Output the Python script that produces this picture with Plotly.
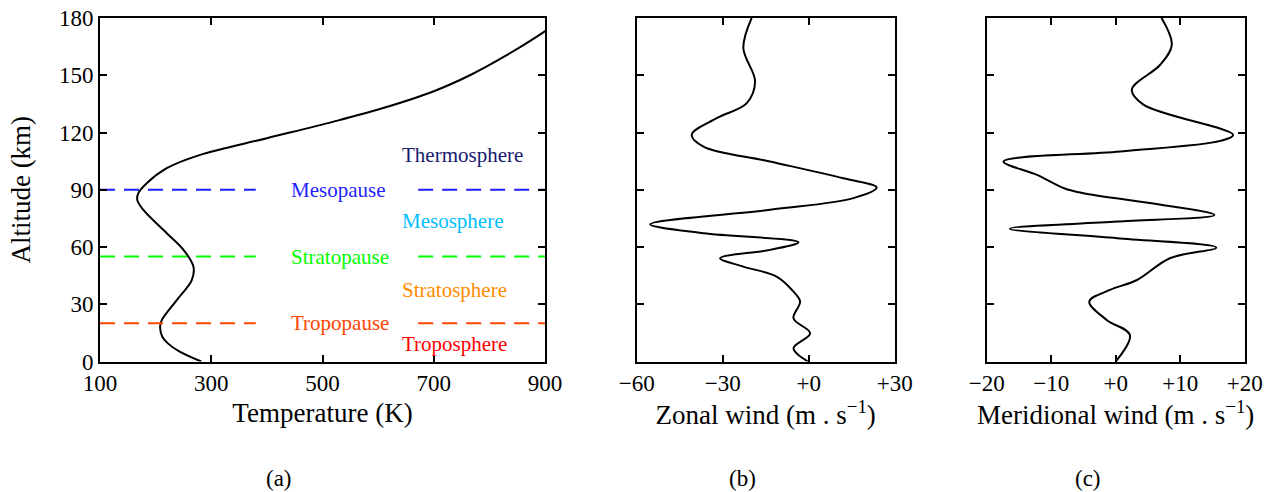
import plotly.graph_objects as go

# ---------------- data ----------------
temp_alt = [0, 5, 9.5, 13, 18.2, 21.7, 32.2, 42.7, 49.7, 58.5, 67.2, 79.4, 84.7, 88.2, 93.4,
            101.3, 108.3, 117, 125.7, 132.8, 141.5, 150, 160, 170, 180]
temp_K = [282, 244, 222, 212, 208, 211, 238, 265, 268, 250, 220, 178, 167, 169, 184,
          220, 280, 400, 520, 609, 699, 765, 828, 884, 935]

zonal_alt = [0, 6.9, 14.8, 22.6, 31.4, 36.6, 44.5, 49.7, 54.1, 58.5, 62.5, 67.2, 71.9,
             79.5, 85.6, 91.2, 96.0, 104.8, 112.6, 118.8, 127.5, 135.4, 146.8, 164.2, 180]
zonal_u = [-0.3, -5.3, 0.5, -5.3, -3.0, -5.3, -11.2, -22.8, -30.9, -13.5, -3.6, -36.7, -55.3,
           -13.5, 15.6, 23.7, 12.1, -13.5, -36.7, -40.8, -32.1, -21.6, -18.7, -22.8, -19.9]

merid_alt = [0, 13.9, 21.8, 31.4, 37.5, 42.7, 54.1, 59.7, 64.6, 69.6, 73.3, 76.8, 83.0,
             88.2, 90.8, 97.8, 104.8, 110.1, 115.6, 118.8, 134.6, 142.5, 155.5, 166.0, 180]
merid_v = [0.0, 2.2, -1.4, -4.1, -0.9, 3.3, 8.4, 15.6, 0.2, -16.4, 0.2, 15.3, 5.3,
           -5.0, -8.0, -12.2, -17.4, 0.7, 16.2, 18.2, 4.3, 2.5, 6.9, 8.7, 7.1]

pause_names = ["Mesopause", "Stratopause", "Tropopause"]
pause_alt = [90, 55, 20]
pause_colors = ["#1f1fff", "#00ff00", "#ff4500"]
pause_left_seg = [100, 380]
pause_right_seg = [672, 900]
pause_label_T = 440

layer_names = ["Thermosphere", "Mesosphere", "Stratosphere", "Troposphere"]
layer_alt = [108, 73.5, 37.5, 9]
layer_colors = ["#191970", "#00bfff", "#ff8c00", "#ff0000"]
layer_label_T = 640

temp_ticks = [100, 300, 500, 700, 900]
zonal_ticks = [-60, -30, 0, 30]
zonal_ticktext = ["\u221260", "\u221230", "+0", "+30"]
merid_ticks = [-20, -10, 0, 10, 20]
merid_ticktext = ["\u221220", "\u221210", "+0", "+10", "+20"]
alt_ticks = [0, 30, 60, 90, 120, 150, 180]

captions = ["(a)", "(b)", "(c)"]
caption_x_px = [279, 742, 1088]

# ---------------- figure ----------------
W, H = 1279, 492
FONT = "Liberation Serif"
y_dom = [1 - 361.5 / H, 1 - 18 / H]
dom_a = [100 / W, 545 / W]
dom_b = [636.7 / W, 894.7 / W]
dom_c = [986.7 / W, 1244.7 / W]

fig = go.Figure()

line_style = dict(color="black", width=2, shape="spline", smoothing=1.0)

fig.add_trace(go.Scatter(x=temp_K, y=temp_alt, mode="lines", line=line_style,
                         xaxis="x", yaxis="y", showlegend=False))
fig.add_trace(go.Scatter(x=zonal_u, y=zonal_alt, mode="lines", line=line_style,
                         xaxis="x2", yaxis="y2", showlegend=False))
fig.add_trace(go.Scatter(x=merid_v, y=merid_alt, mode="lines", line=line_style,
                         xaxis="x3", yaxis="y3", showlegend=False))

for name, a, c in zip(pause_names, pause_alt, pause_colors):
    for seg in (pause_left_seg, pause_right_seg):
        fig.add_trace(go.Scatter(x=seg, y=[a, a], mode="lines",
                                 line=dict(color=c, width=2, dash="15px,9px"),
                                 xaxis="x", yaxis="y", showlegend=False))
    fig.add_annotation(x=pause_label_T, y=a, xref="x", yref="y", text=name,
                       showarrow=False, xanchor="left", yanchor="middle",
                       font=dict(family=FONT, size=21, color=c))

for name, a, c in zip(layer_names, layer_alt, layer_colors):
    fig.add_annotation(x=layer_label_T, y=a, xref="x", yref="y", text=name,
                       showarrow=False, xanchor="left", yanchor="middle",
                       font=dict(family=FONT, size=21, color=c))

for cap, px in zip(captions, caption_x_px):
    fig.add_annotation(x=px / W, y=1 - 478 / H, xref="paper", yref="paper", text=cap,
                       showarrow=False, xanchor="center", yanchor="middle",
                       font=dict(family=FONT, size=23, color="black"))

axis_common = dict(showgrid=False, zeroline=False, showline=True, linecolor="black",
                   linewidth=2, mirror="allticks", ticks="inside", ticklen=7,
                   tickwidth=1.5, tickcolor="black", automargin=False,
                   tickfont=dict(family=FONT, size=23, color="black"))

title_font = dict(family=FONT, size=27, color="black")

fig.update_layout(
    width=W, height=H, margin=dict(l=0, r=0, t=0, b=0, autoexpand=False),
    font=dict(family=FONT, color="black"),
    paper_bgcolor="white", plot_bgcolor="white",
    xaxis=dict(domain=dom_a, range=[100, 900], tickvals=temp_ticks,
               title=dict(text="Temperature (K)", font=title_font, standoff=8),
               anchor="y", **axis_common),
    yaxis=dict(domain=y_dom, range=[0, 180], tickvals=alt_ticks,
               title=dict(text="Altitude (km)", font=title_font, standoff=20),
               anchor="x", **axis_common),
    xaxis2=dict(domain=dom_b, range=[-60, 30], tickvals=zonal_ticks, ticktext=zonal_ticktext,
                title=dict(text="Zonal wind (m . s<sup>\u22121</sup>)", font=title_font, standoff=8),
                anchor="y2", **axis_common),
    yaxis2=dict(domain=y_dom, range=[0, 180], tickvals=alt_ticks, showticklabels=False,
                anchor="x2", **axis_common),
    xaxis3=dict(domain=dom_c, range=[-20, 20], tickvals=merid_ticks, ticktext=merid_ticktext,
                title=dict(text="Meridional wind (m . s<sup>\u22121</sup>)", font=title_font, standoff=8),
                anchor="y3", **axis_common),
    yaxis3=dict(domain=y_dom, range=[0, 180], tickvals=alt_ticks, showticklabels=False,
                anchor="x3", **axis_common),
)

fig.write_html("out.html")
